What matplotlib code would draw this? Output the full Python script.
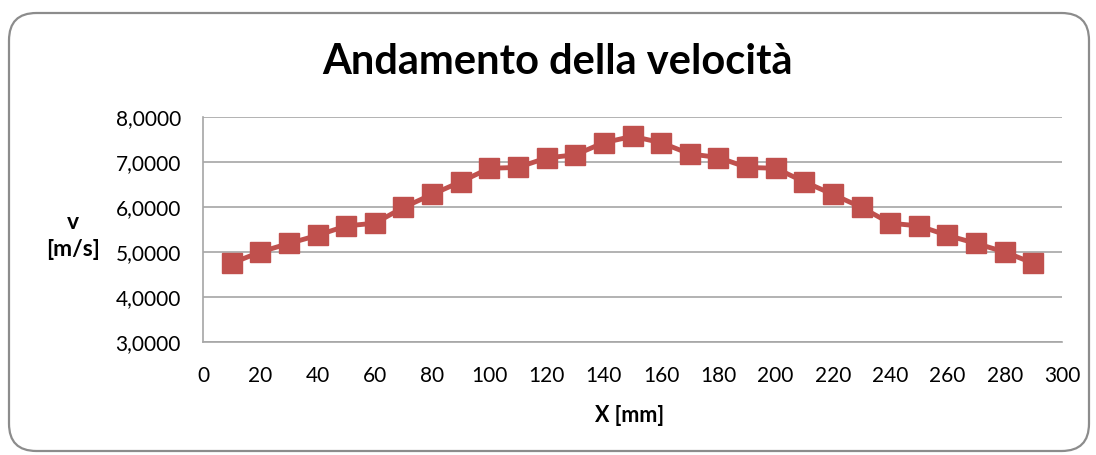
import matplotlib
matplotlib.use("Agg")
import matplotlib.pyplot as plt
from matplotlib.patches import FancyBboxPatch
from matplotlib.ticker import FuncFormatter, MultipleLocator

# position along the channel [mm] and measured velocity [m/s]
x_mm = [10, 20, 30, 40, 50, 60, 70, 80, 90, 100, 110, 120, 130, 140, 150,
        160, 170, 180, 190, 200, 210, 220, 230, 240, 250, 260, 270, 280, 290]
v_ms = [4.75, 5.00, 5.19, 5.37, 5.58, 5.64, 5.99, 6.28, 6.56, 6.86, 6.88, 7.09, 7.16, 7.43, 7.57,
        7.43, 7.18, 7.10, 6.88, 6.86, 6.56, 6.28, 5.99, 5.64, 5.58, 5.37, 5.19, 5.00, 4.75]

title = "Andamento della velocità"
x_label = "X [mm]"
y_label = "v\n[m/s]"

plt.rcParams["font.family"] = ["Lato", "DejaVu Sans"]

fig = plt.figure(figsize=(10.96, 4.55), dpi=100)
fig.patch.set_facecolor("white")

# rounded chart border
W, H = 1096, 455
frame = FancyBboxPatch((9 / W, 4 / H), 1080 / W, 438 / H,
                       boxstyle="round,pad=0,rounding_size=0.025",
                       transform=fig.transFigure, facecolor="white",
                       edgecolor="#8c8c8c", linewidth=1.6, zorder=-5,
                       mutation_aspect=W / H)
fig.patches.append(frame)

ax = fig.add_axes([203 / W, 1 - 342 / H, 859 / W, 225 / H])
ax.set_zorder(2)
ax.set_facecolor("none")

ax.plot(x_mm, v_ms, color="#c0504d", linewidth=3.5, marker="s", markersize=14,
        markerfacecolor="#c0504d", markeredgecolor="#c0504d", zorder=3, clip_on=False)

ax.set_xlim(0, 300)
ax.set_ylim(3, 8)
ax.xaxis.set_major_locator(MultipleLocator(20))
ax.yaxis.set_major_locator(MultipleLocator(1))
ax.yaxis.set_major_formatter(FuncFormatter(lambda v, _: f"{v:.4f}".replace(".", ",")))

ax.grid(axis="y", color="#a6a6a6", linewidth=1.2)
ax.set_axisbelow(True)
for side in ("top", "right"):
    ax.spines[side].set_visible(False)
for side in ("left", "bottom"):
    ax.spines[side].set_color("#a6a6a6")
    ax.spines[side].set_linewidth(1.2)

ax.tick_params(length=0, labelsize=15, colors="black")
ax.tick_params(axis="y", pad=16)
ax.tick_params(axis="x", pad=17)

fig.text(557 / W, 1 - 62 / H, title, ha="center", va="center",
         fontsize=30, fontweight="bold", zorder=3)
fig.text(630 / W, 1 - 416 / H, x_label, ha="center", va="center",
         fontsize=15.5, fontweight="bold", zorder=3)
fig.text(73 / W, 1 - 236 / H, y_label, ha="center", va="center",
         fontsize=16.5, fontweight="bold", linespacing=1.35, zorder=3)

fig.savefig("out.png", dpi=100)
